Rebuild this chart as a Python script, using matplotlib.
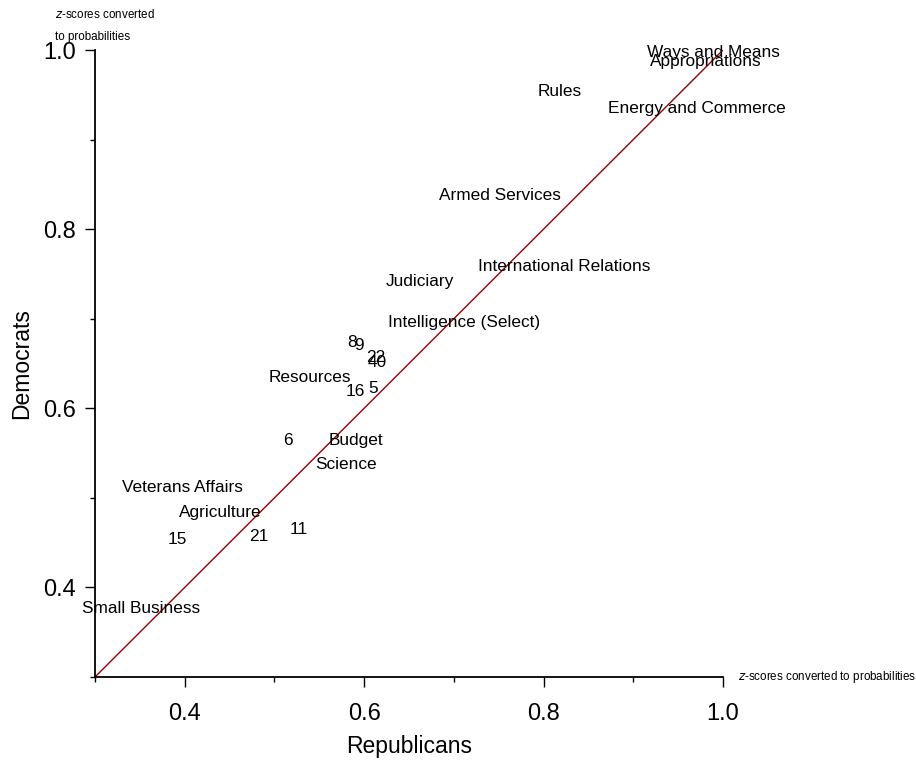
import matplotlib.pyplot as plt

plt.rcParams['font.family'] = ['Liberation Sans', 'DejaVu Sans']

# committee labels and their (Republican, Democrat) probabilities
labels = ['Ways and Means', 'Appropriations', 'Rules', 'Energy and Commerce',
          'Armed Services', 'International Relations', 'Judiciary',
          'Intelligence (Select)', '8', '9', '22', '40', 'Resources', '16', '5',
          '6', 'Budget', 'Science', 'Veterans Affairs', 'Agriculture',
          '15', '21', '11', 'Small Business']
rep = [0.989, 0.981, 0.818, 0.971, 0.751, 0.823, 0.662, 0.711, 0.586, 0.594,
       0.613, 0.615, 0.540, 0.590, 0.610, 0.515, 0.591, 0.580, 0.398, 0.440,
       0.392, 0.483, 0.527, 0.351]
dem = [0.997, 0.987, 0.954, 0.935, 0.838, 0.758, 0.742, 0.696, 0.674, 0.670,
       0.657, 0.651, 0.634, 0.619, 0.622, 0.564, 0.564, 0.537, 0.512, 0.484,
       0.454, 0.457, 0.465, 0.376]

major = [0.4, 0.6, 0.8, 1.0]
minor = [0.3, 0.5, 0.7, 0.9]

fig = plt.figure(figsize=(9.16, 7.63), dpi=100)
ax = fig.add_axes([95 / 916, 86 / 763, 628 / 916, 627 / 763])

ax.plot([0.3, 1.0], [0.3, 1.0], color='#990000', lw=1)
for lab, x, y in zip(labels, rep, dem):
    ax.text(x, y, lab, ha='center', va='center', fontsize=12.4, clip_on=False)

ax.set_xlim(0.3, 1.0)
ax.set_ylim(0.3, 1.0)
ax.spines['top'].set_visible(False)
ax.spines['right'].set_visible(False)
ax.spines['left'].set_linewidth(1.3)
ax.spines['bottom'].set_linewidth(1.3)

ax.set_xticks(major)
ax.set_xticklabels(['0.4', '0.6', '0.8', '1.0'])
ax.set_yticks(major)
ax.set_yticklabels(['0.4', '0.6', '0.8', '1.0'])
ax.set_xticks(minor, minor=True)
ax.set_yticks(minor, minor=True)
ax.tick_params(axis='x', which='major', length=7, width=1, labelsize=17, pad=12)
ax.tick_params(axis='y', which='major', length=7, width=1, labelsize=17, pad=7)
ax.tick_params(which='minor', length=3.6, width=1)

ax.set_xlabel('Republicans', fontsize=16.5, va='center')
ax.set_ylabel('Democrats', fontsize=16.5, va='center')
ax.xaxis.set_label_coords((409 - 95) / 628, (677 - 747) / 627)
ax.yaxis.set_label_coords((22 - 95) / 628, (677 - 364) / 627)

fig.text(55 / 916, 1 - 15 / 763, '$z$-scores converted', fontsize=8.4,
         va='center', ha='left')
fig.text(55 / 916, 1 - 37 / 763, 'to probabilities', fontsize=8.4,
         va='center', ha='left')
fig.text(738 / 916, 86 / 763, '$z$-scores converted to probabilities',
         fontsize=8.4, va='center', ha='left')

fig.savefig('out.png', dpi=100)
